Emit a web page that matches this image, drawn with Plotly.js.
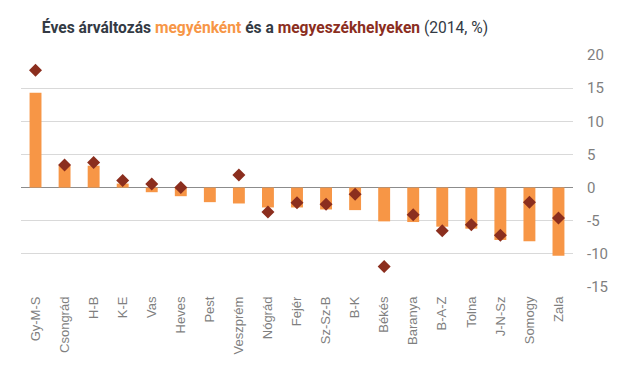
<!DOCTYPE html>
<html>
<head>
<meta charset="utf-8">
<script src="https://cdn.plot.ly/plotly-3.0.1.min.js"></script>
<style>html,body{margin:0;padding:0;background:#fff;}</style>
</head>
<body>
<div id="chart" style="width:625px;height:366px;"></div>
<script>
const categories = ["Gy-M-S","Csongrád","H-B","K-E","Vas","Heves","Pest","Veszprém","Nógrád","Fejér","Sz-Sz-B","B-K","Békés","Baranya","B-A-Z","Tolna","J-N-Sz","Somogy","Zala"];
const megyenkent = [14.3,3.3,3.3,0.6,-0.7,-1.3,-2.2,-2.4,-3.0,-3.0,-3.3,-3.4,-5.1,-5.2,-5.9,-6.2,-7.9,-8.1,-10.3];
const szekhelyeken = [17.7,3.4,3.8,1.05,0.55,0.0,null,1.9,-3.7,-2.3,-2.5,-1.0,-11.9,-4.1,-6.5,-5.6,-7.2,-2.2,-4.6];
const yTicks = [-15,-10,-5,0,5,10,15,20];

const traces = [
  {type:'bar', x:categories, y:megyenkent, marker:{color:'#F79646'}, hoverinfo:'none', name:'megyénként'},
  {type:'scatter', mode:'markers', x:categories, y:szekhelyeken, marker:{symbol:'diamond', size:10, color:'#8B2E1E'}, hoverinfo:'none', name:'megyeszékhelyeken'}
];

const layout = {
  width:625, height:366,
  margin:{l:21, r:52, t:55, b:79, autoexpand:false},
  paper_bgcolor:'#fff', plot_bgcolor:'#fff',
  showlegend:false,
  bargap:0.59,
  title:{
    text:'<b>Éves árváltozás <span style="color:#F79646">megyénként</span> és a <span style="color:#8B2E1E">megyeszékhelyeken</span></b> (2014, %)',
    font:{family:'Roboto, Liberation Sans, sans-serif', size:15.6, color:'#333a44'},
    x:265/625, xanchor:'center', xref:'container', y:0.925, yanchor:'middle', automargin:false
  },
  xaxis:{
    type:'category',
    range:[-0.5, categories.length - 0.5],
    automargin:false,
    tickangle:-90,
    tickfont:{family:'Liberation Sans, Arial, sans-serif', size:13, color:'#7f7f7f'},
    showgrid:false, zeroline:false, showline:false, ticks:'',
    ticklabelstandoff:6
  },
  yaxis:{
    side:'right',
    automargin:false,
    range:[-15,20],
    tickvals:yTicks,
    ticktext:yTicks.map(String),
    tickfont:{family:'Roboto, Liberation Sans, sans-serif', size:15, color:'#7f7f7f'},
    showgrid:true, gridcolor:'#d9d9d9', gridwidth:1,
    zeroline:true, zerolinecolor:'#8c8c8c', zerolinewidth:1,
    showline:false, ticks:'',
    ticklabelstandoff:13
  }
};

Plotly.newPlot('chart', traces, layout, {displayModeBar:false, staticPlot:true});
</script>
</body>
</html>
